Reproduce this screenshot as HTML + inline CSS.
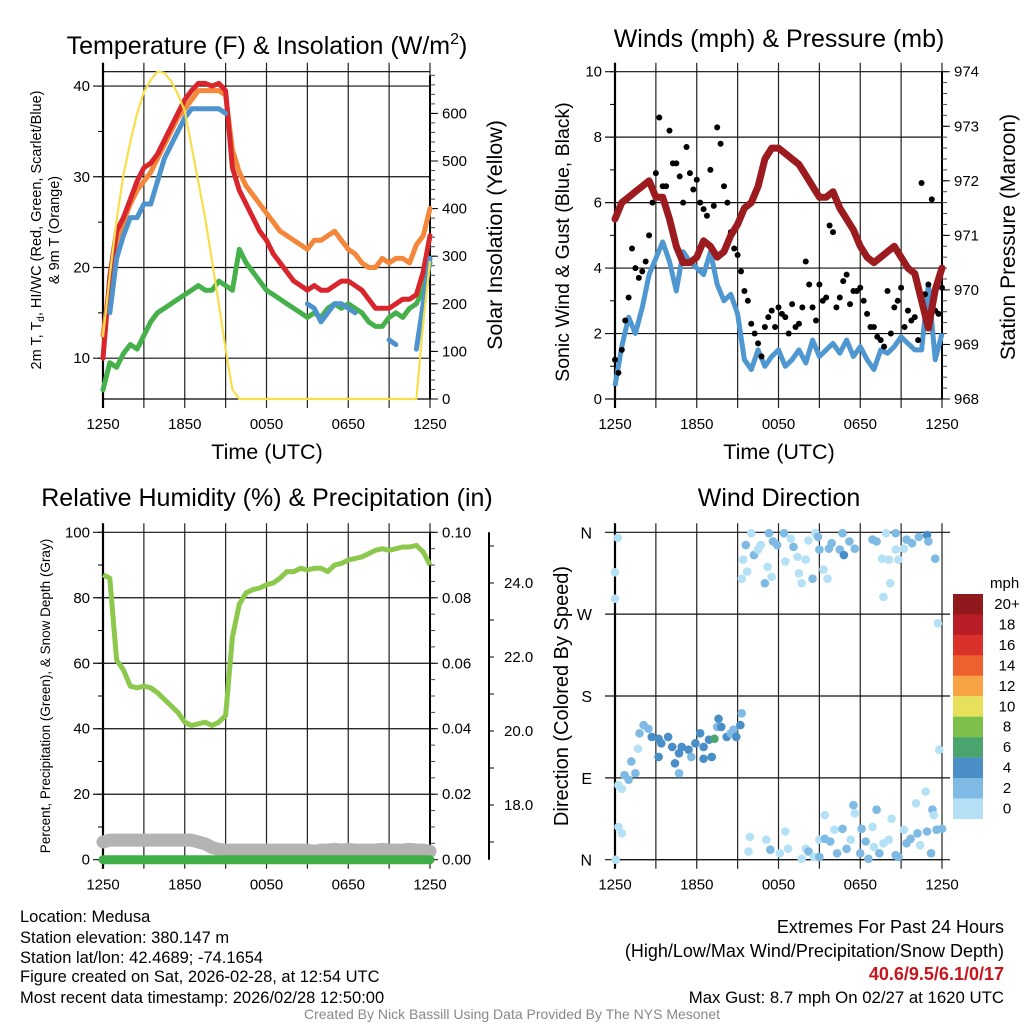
<!DOCTYPE html>
<html><head><meta charset="utf-8">
<style>
html,body{margin:0;padding:0;background:#fff;}
svg{display:block;font-family:"Liberation Sans",Arial,sans-serif;}
</style></head>
<body>
<svg id="chart" width="1024" height="1024" viewBox="0 0 1024 1024" xmlns="http://www.w3.org/2000/svg">
<rect x="0" y="0" width="1024" height="1024" fill="#fff"/>
<text x="267" y="54" font-size="25" text-anchor="middle">Temperature (F) &amp; Insolation (W/m<tspan dy="-10" font-size="16">2</tspan><tspan dy="10">)</tspan></text>
<text x="779" y="47" font-size="25" text-anchor="middle">Winds (mph) &amp; Pressure (mb)</text>
<text x="267" y="506" font-size="25" text-anchor="middle">Relative Humidity (%) &amp; Precipitation (in)</text>
<text x="779" y="506" font-size="25" text-anchor="middle">Wind Direction</text>

<text x="267" y="459" font-size="21.5" text-anchor="middle">Time (UTC)</text>
<text x="779" y="459" font-size="21.5" text-anchor="middle">Time (UTC)</text>

<text transform="translate(41,230) rotate(-90)" font-size="14.5" text-anchor="middle">2m T, T<tspan dy="3" font-size="10">d</tspan><tspan dy="-3">, HI/WC (Red, Green, Scarlet/Blue)</tspan></text>
<text transform="translate(59,230) rotate(-90)" font-size="14.5" text-anchor="middle">&amp; 9m T (Orange)</text>
<text transform="translate(502,235) rotate(-90)" font-size="21.5" text-anchor="middle">Solar Insolation (Yellow)</text>
<text transform="translate(569,242) rotate(-90)" font-size="19.5" text-anchor="middle">Sonic Wind &amp; Gust (Blue, Black)</text>
<text transform="translate(1015,237) rotate(-90)" font-size="21" text-anchor="middle">Station Pressure (Maroon)</text>
<text transform="translate(50,696) rotate(-90)" font-size="13.5" text-anchor="middle">Percent, Precipitation (Green), &amp; Snow Depth (Gray)</text>
<text transform="translate(568,696) rotate(-90)" font-size="20" text-anchor="middle">Direction (Colored By Speed)</text>

<g font-size="16.5">
<text x="20" y="922">Location: Medusa</text>
<text x="20" y="943">Station elevation: 380.147 m</text>
<text x="20" y="963">Station lat/lon: 42.4689; -74.1654</text>
<text x="20" y="982">Figure created on Sat, 2026-02-28, at 12:54 UTC</text>
<text x="20" y="1003">Most recent data timestamp: 2026/02/28 12:50:00</text>
</g>
<g font-size="18" text-anchor="end">
<text x="1004" y="933">Extremes For Past 24 Hours</text>
<text x="1004" y="957">(High/Low/Max Wind/Precipitation/Snow Depth)</text>
<text x="1004" y="980" font-weight="bold" fill="#c8161d">40.6/9.5/6.1/0/17</text>
<text x="1004" y="1003" font-size="16.8">Max Gust: 8.7 mph On 02/27 at 1620 UTC</text>
</g>
<text x="512" y="1019" font-size="14" fill="#888" text-anchor="middle">Created By Nick Bassill Using Data Provided By The NYS Mesonet</text>
</svg>
<script>
// ---- data (half-hourly, hours since 1250 UTC) ----
const timeLabels = ["1250","1850","0050","0650","1250"];
const tempT = [10,19,24,25.5,27.5,29.5,31,31.5,32.5,34,35.5,37,38.5,39.5,40.3,40.3,40,40.3,39.5,31,28.5,27,25.5,24,23,21.5,20.5,19.5,18.5,18,17.5,18,17.5,17.5,18,18.5,18.5,18,17.5,16.5,15.5,15.5,15.5,16,16.5,16.5,17,19.5,23.5];
const temp9m = [12.5,18,23,25,27,28.5,29.5,30.5,32,33.5,35,36.5,37.5,38.5,39.5,39.5,39.5,39.5,39,33,30.5,29,28,27,26,25,24,23.5,23,22.5,22,23,23,23.5,24,23,22,21.5,20.5,20,20,21,20.5,21,21,20.5,22.5,23.5,26.5];
const tempWC = [null,15,21,23.5,25.5,25.5,27,27,29.5,32,33.5,35,36.5,37.5,37.5,37.5,37.5,37.5,37,null,null,null,null,null,null,null,19,null,null,null,16,15.5,14,15,16,16,15.5,15,null,null,null,null,12,11.5,null,null,11,16,21];
const tempTd = [6.5,9.5,9,10.5,11.5,11,12.5,14,15,15.5,16,16.5,17,17.5,18,17.5,17.5,18.5,18,17.5,22,20.5,19.5,18.5,17.5,17,16.5,16,15.5,15,14.5,15,14.5,15.5,16,15.5,16,15.5,15,14,13.5,13.5,14.5,15,14.5,15.5,16,17.5,20.5];
const solar = [130,260,376,470,540,600,645,670,688,685,668,640,605,530,455,380,290,200,105,20,0,0,0,0,0,0,0,0,0,0,0,0,0,0,0,0,0,0,0,0,0,0,0,0,0,0,0,160,290];
const windSpd = [0.4,1.6,2.5,2.0,2.8,3.8,4.3,4.8,4.2,3.3,4.5,4.2,4.0,3.8,4.5,3.5,3.0,3.2,2.6,1.2,0.9,1.5,1.0,1.3,1.5,1.0,1.2,1.5,1.1,1.8,1.3,1.5,1.7,1.4,1.8,1.3,1.6,1.2,0.9,1.5,1.4,1.6,1.9,1.7,1.5,1.5,3.5,1.2,2.0];
const gust = [1.2,1.5,3.1,4.0,3.9,5.0,6.9,6.5,8.2,7.2,6.0,6.9,6.7,5.8,7.0,8.3,6.5,5.1,4.4,3.3,2.3,1.7,2.2,2.7,2.8,2.5,2.9,2.3,4.2,2.8,3.5,3.1,5.1,3.1,3.8,3.3,3.4,2.6,2.2,1.8,3.3,2.8,3.4,2.7,2.5,6.6,3.5,2.7,3.4];
const gustMid = [0.8,2.4,4.6,3.7,4.2,6.0,8.6,6.5,7.2,6.8,7.7,6.4,6.0,5.6,5.9,7.8,6.0,4.6,3.9,3.0,2.0,1.3,2.5,2.2,2.6,2.0,2.2,2.8,3.5,2.4,3.0,5.3,2.8,3.6,2.9,3.3,3.0,2.2,1.9,1.6,2.0,3.0,2.2,2.4,1.8,3.2,6.1,2.6];
const pressure = [971.3,971.6,971.7,971.8,971.9,972.0,971.7,971.7,971.3,970.8,970.5,970.5,970.6,970.9,970.8,970.6,970.7,971.0,971.2,971.5,971.6,971.9,972.4,972.6,972.6,972.5,972.4,972.3,972.1,971.9,971.7,971.7,971.8,971.5,971.3,971.1,970.8,970.6,970.5,970.6,970.7,970.8,970.6,970.4,970.3,969.8,969.3,970.0,970.4];
const rh = [87,86,61,58,53,52.5,53,52.5,51,49,47,45,42,41,41.5,42,41,42,44,68,78,81.5,82.5,83,84,84.5,86,88,88,89,88.5,89,89,88,90,90.5,91.5,92,92.5,93.5,94.5,95,94.5,95,95.5,95.5,96,94,90];
const snowDepth = [17.0,17.05,17.05,17.05,17.05,17.05,17.05,17.05,17.05,17.05,17.05,17.05,17.05,17.05,17.0,16.95,16.85,16.8,16.78,16.78,16.78,16.78,16.78,16.78,16.78,16.78,16.78,16.78,16.78,16.78,16.78,16.75,16.78,16.78,16.8,16.78,16.8,16.78,16.78,16.78,16.78,16.8,16.78,16.78,16.78,16.8,16.78,16.78,16.75];
const precip = [0,0,0,0,0,0,0,0,0,0,0,0,0,0,0,0,0,0,0,0,0,0,0,0,0,0,0,0,0,0,0,0,0,0,0,0,0,0,0,0,0,0,0,0,0,0,0,0,0];
const dirHours = [0.2,0,0,0.25,0.5,0.7,1.0,1.2,1.5,1.7,1.8,2.1,2.45,2.7,3.2,3.4,3.2,3.9,4.2,4.4,4.7,4.7,4.9,5.4,5.6,5.9,6.25,6.5,6.5,6.9,7.1,7.5,7.6,7.8,8.2,8.5,8.7,8.9,9.2,9.3,
 9.3,9.4,9.6,9.7,10.0,10.2,10.5,10.7,11.0,11.2,11.3,11.5,11.6,11.9,12.4,12.5,12.9,13.1,13.4,13.5,13.7,14.0,14.2,14.5,14.7,14.9,15.0,15.3,15.6,15.7,15.9,16.5,16.8,16.7,17.2,17.6,18.9,19.2,19.6,19.7,19.9,20.1,20.2,20.6,20.6,20.8,21.2,21.4,21.8,22.3,22.9,23.0,23.5,23.7,23.8,
 9.9,9.8,11.1,11.4,12.1,12.5,12.7,13.7,14.0,14.2,14.6,15.0,15.0,15.4,15.4,15.8,16.1,16.3,16.7,17.0,17.3,17.5,17.6,18.0,18.1,18.4,18.6,18.9,19.0,19.2,19.4,19.7,20.1,20.3,20.6,20.8,21.2,21.4,21.7,22.1,22.2,22.4,22.8,22.9,23.2,23.3,23.4,23.6,24.0,0.05,0.25,0.5,7.3];
const dirDeg = [354,316,287,82,78,93,88,108,95,122,139,148,144,135,133,128,113,135,124,106,117,95,124,121,113,128,139,124,111,132,113,146,155,146,135,139,143,135,148,161,
 309,330,346,317,359,335,341,346,304,322,359,311,350,346,359,328,353,344,333,315,304,330,351,309,359,355,341,319,309,342,348,341,335,359,350,342,352,350,331,289,359,330,304,359,341,330,342,352,348,355,357,350,331,260,121,
 25,9,22,11,7,31,12,1,12,9,3,3,22,49,23,20,33,7,34,12,22,60,51,7,34,20,1,36,14,55,7,18,22,45,5,3,33,18,23,62,29,16,75,31,7,55,49,33,34,0,36,29,133];
const dirSpeed = [1,1,1,1,1,3,3,3,3,1,3,3,3,5,5,5,5,5,5,5,5,2,5,5,3,5,5,5,5,5,5,3,5,5,5,3,3,5,5,3,
 1,1,3,1,1,3,1,1,3,1,3,1,3,3,3,1,1,3,1,1,1,1,1,3,1,3,3,1,1,3,3,3,5,3,3,3,3,3,1,1,1,1,1,3,1,1,1,3,3,3,5,3,3,1,1,
 1,1,1,3,1,1,1,1,1,3,1,3,1,1,3,3,1,3,3,3,1,3,1,3,3,3,3,1,1,3,3,1,1,1,3,3,1,3,3,1,3,1,1,3,3,3,1,3,3,1,1,1,7];
const legendLabels = ["20+","18","16","14","12","10","8","6","4","2","0"];
const legendColors = ["#8f191c","#b91d25","#da3229","#ee602d","#f6a446","#e6e05a","#7dbf4b","#4ba46e","#4a8ec7","#7ebae4","#b4e1f6"];

const NS = "http://www.w3.org/2000/svg";
const svg = document.getElementById('chart');
function add(p, tag, a, name) {
  const el = document.createElementNS(NS, tag);
  for (const k in a) el.setAttribute(k, a[k]);
  
  
  p.appendChild(el);
  return el;
}
function txt(p, x, y, s, size, anchor, name) {
  const t = add(p, 'text', {x: x, y: y, 'font-size': size, 'text-anchor': anchor}, name);
  t.textContent = s;
  return t;
}
function pathFrom(arr, xf, yf) {
  let d = '', pen = false;
  arr.forEach((v, i) => {
    if (v === null) { pen = false; return; }
    d += (pen ? 'L' : 'M') + xf(i * 0.5).toFixed(1) + ',' + yf(v).toFixed(1);
    pen = true;
  });
  return d;
}
function timeGrid(g, x0, yTop, yBot, prefix) {
  const xs = h => x0 + h * 13.625;
  for (let h = 0; h <= 24; h += 3) {
    add(g, 'line', {x1: xs(h), x2: xs(h), y1: yTop - 9, y2: yBot + 9, stroke: '#222', 'stroke-width': 1.2}, prefix + '-vgrid');
  }
  timeLabels.forEach((s, i) => txt(g, xs(i * 6), yBot + 30, s, 15, 'middle', prefix + '-x-tick-label'));
  add(g, 'line', {x1: x0, x2: x0, y1: yTop - 9, y2: yBot + 9, stroke: '#000', 'stroke-width': 2.2}, prefix + '-left-axis');
  add(g, 'line', {x1: x0, x2: x0 + 327, y1: yBot, y2: yBot, stroke: '#000', 'stroke-width': 1.2}, prefix + '-bottom-axis');
  return xs;
}
function leftAxis(g, x0, yf, min, max, major, minor, fmt, prefix, grid) {
  for (let v = min; v <= max + 1e-9; v += minor) {
    add(g, 'line', {x1: x0 - 5, x2: x0, y1: yf(v), y2: yf(v), stroke: '#000', 'stroke-width': 1}, prefix + '-minor-tick');
  }
  for (let v = min; v <= max + 1e-9; v += major) {
    if (grid) add(g, 'line', {x1: x0 - 10, x2: x0 + 327, y1: yf(v), y2: yf(v), stroke: '#111', 'stroke-width': 1.2}, prefix + '-hgrid');
    txt(g, x0 - 13, yf(v) + 5, fmt(v), 15, 'end', prefix + '-y-tick-label');
  }
}
function rightAxis(g, x1, yf, min, max, major, minor, fmt, prefix, lx) {
  add(g, 'line', {x1: x1, x2: x1, y1: yf(max), y2: yf(min), stroke: '#000', 'stroke-width': 2}, prefix + '-axis-line');
  for (let v = min; v <= max + 1e-9; v += minor) {
    add(g, 'line', {x1: x1, x2: x1 + 5, y1: yf(v), y2: yf(v), stroke: '#444', 'stroke-width': 1}, prefix + '-minor-tick');
  }
  for (let v = min; v <= max + 1e-9; v += major) {
    add(g, 'line', {x1: x1, x2: x1 + 8, y1: yf(v), y2: yf(v), stroke: '#000', 'stroke-width': 1}, prefix + '-major-tick');
    txt(g, x1 + (lx || 12), yf(v) + 5, fmt(v), 15, 'start', prefix + '-tick-label');
  }
}

// ---- Panel 1: temperature ----
{
  const g = add(svg, 'g', {}, 'temperature-panel');
  const yT = v => 399 - (v - 5.5) * 9.07;
  const yS = v => 399 - v * 0.476;
  const xs = timeGrid(g, 103, 71.7, 399, 'temp');
  add(g, 'line', {x1: 103, x2: 430, y1: 71.7, y2: 71.7, stroke: '#000', 'stroke-width': 1.2}, 'temp-top-border');
  leftAxis(g, 103, yT, 10, 40, 10, 5, v => v, 'temp', true);
  rightAxis(g, 430, yS, 0, 680, 100, 20, v => v, 'solar');
  const attrs = c => ({fill: 'none', stroke: c, 'stroke-width': 5, 'stroke-linejoin': 'round', 'stroke-linecap': 'round'});
  add(g, 'path', Object.assign({d: pathFrom(temp9m, xs, yT)}, attrs('#f4873a')), 'line-9m-temp');
  add(g, 'path', Object.assign({d: pathFrom(tempTd, xs, yT)}, attrs('#46b04a')), 'line-dewpoint');
  add(g, 'path', Object.assign({d: pathFrom(tempT, xs, yT)}, attrs('#d8262c')), 'line-2m-temp');
  add(g, 'path', Object.assign({d: pathFrom(tempWC, xs, yT)}, attrs('#4d94cf')), 'line-windchill');
  add(g, 'path', {d: pathFrom(solar, xs, yS), fill: 'none', stroke: '#f7df4c', 'stroke-width': 2.2, 'stroke-linejoin': 'round'}, 'line-solar');
}

// ---- Panel 2: winds & pressure ----
{
  const g = add(svg, 'g', {}, 'wind-panel');
  const yW = v => 399 - v * 32.73;
  const yP = v => 399 - (v - 968) * 54.55;
  const xs = timeGrid(g, 615, 71.7, 399, 'wind');
  leftAxis(g, 615, yW, 0, 10, 2, 1, v => v, 'wind', true);
  rightAxis(g, 942, yP, 968, 974, 1, 0.2, v => Math.round(v), 'pressure');
  add(g, 'path', {d: pathFrom(windSpd, xs, yW), fill: 'none', stroke: '#4f97d1', 'stroke-width': 5, 'stroke-linejoin': 'round'}, 'line-wind-speed');
  gust.forEach((v, i) => {
    const c = add(g, 'circle', {cx: xs(i * 0.5), cy: yW(v), r: 3, fill: '#000'}, 'gust-point');
    
  });
  gustMid.forEach((v, i) => {
    const c = add(g, 'circle', {cx: xs(i * 0.5 + 0.25), cy: yW(v), r: 3, fill: '#000'}, 'gust-point');
    
  });
  add(g, 'path', {d: pathFrom(pressure, xs, yP), fill: 'none', stroke: '#9b1b1e', 'stroke-width': 7, 'stroke-linejoin': 'round', 'stroke-linecap': 'round'}, 'line-pressure');
}

// ---- Panel 3: humidity ----
{
  const g = add(svg, 'g', {}, 'humidity-panel');
  const yR = v => 859.7 - v * 3.274;
  const yQ = v => 859.7 - v * 3274;
  const yN = v => 583 + (24 - v) * 37;
  const xs = timeGrid(g, 103, 532.3, 859.7, 'rh');
  leftAxis(g, 103, yR, 0, 100, 20, 10, v => v, 'rh', true);
  rightAxis(g, 430, yQ, 0, 0.1, 0.02, 0.005, v => v.toFixed(2), 'precip');
  add(g, 'line', {x1: 489, x2: 489, y1: 532.3, y2: 859.7, stroke: '#000', 'stroke-width': 2}, 'snow-axis-line');
  for (let v = 17; v <= 25; v += 1) {
    add(g, 'line', {x1: 489, x2: 494, y1: yN(v), y2: yN(v), stroke: '#000', 'stroke-width': 1}, 'snow-tick');
  }
  for (let v = 18; v <= 24; v += 2) {
    txt(g, 504, yN(v) + 5, v.toFixed(1), 15, 'start', 'snow-tick-label');
  }
  add(g, 'path', {d: pathFrom(snowDepth, xs, yN), fill: 'none', stroke: '#b3b3b3', 'stroke-width': 13, 'stroke-linejoin': 'round', 'stroke-linecap': 'round'}, 'line-snow-depth');
  add(g, 'path', {d: pathFrom(precip, xs, yQ), fill: 'none', stroke: '#3fae47', 'stroke-width': 9, 'stroke-linecap': 'round'}, 'line-precip');
  add(g, 'path', {d: pathFrom(rh, xs, yR), fill: 'none', stroke: '#8cc84b', 'stroke-width': 5, 'stroke-linejoin': 'round'}, 'line-rh');
}

// ---- Panel 4: wind direction ----
{
  const g = add(svg, 'g', {}, 'direction-panel');
  const yD = d => 859.7 - d * 0.9094;
  const xs = timeGrid(g, 615, 532.3, 859.7, 'dir');
  ['N','E','S','W','N'].forEach((s, i) => {
    add(g, 'line', {x1: 605, x2: 950, y1: yD(i * 90), y2: yD(i * 90), stroke: '#111', 'stroke-width': 1.2}, 'dir-hgrid');
    txt(g, 592, yD(i * 90) + 6, s, 16, 'end', 'dir-y-tick-label');
  });
  const col = s => legendColors[10 - Math.min(10, Math.floor(s / 2))];
  dirHours.forEach((h, i) => {
    const c = add(g, 'circle', {cx: xs(h), cy: yD(dirDeg[i]), r: 4.3, fill: col(dirSpeed[i])}, 'direction-point');
    
  });
  const lg = add(g, 'g', {}, 'speed-legend');
  txt(lg, 990, 588, 'mph', 15, 'start', 'legend-title');
  legendLabels.forEach((s, i) => {
    add(lg, 'rect', {x: 953, y: 594 + i * 20.45, width: 30, height: 20.6, fill: legendColors[i]}, 'legend-swatch');
    txt(lg, 1007, 609 + i * 20.45, s, 15, 'middle', 'legend-label');
  });
}
</script>
</body></html>
